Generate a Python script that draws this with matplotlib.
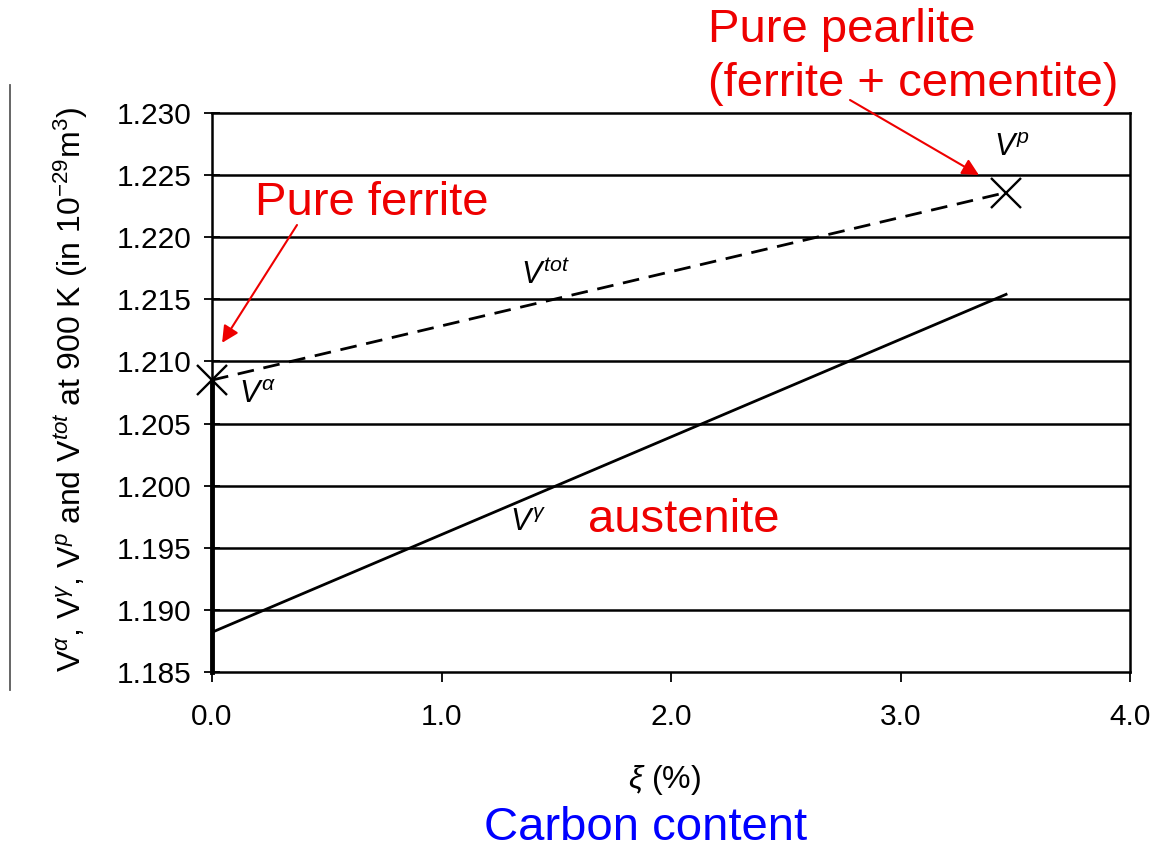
import matplotlib
matplotlib.use("Agg")
import matplotlib.pyplot as plt
from matplotlib.lines import Line2D

# data
carbon = [0.0, 3.46]            # xi (%)
v_tot = [1.2085, 1.2236]        # dashed, pure ferrite -> pure pearlite
v_gamma = [1.1882, 1.2154]      # austenite
v_alpha_x = [0.0, 0.0]
v_alpha = [1.185, 1.2085]       # thick vertical at xi = 0
x_ticks = [0.0, 1.0, 2.0, 3.0, 4.0]
y_ticks = [1.185, 1.190, 1.195, 1.200, 1.205, 1.210, 1.215, 1.220, 1.225, 1.230]

plt.rcParams['font.family'] = ['Liberation Sans', 'DejaVu Sans']
plt.rcParams['mathtext.fontset'] = 'custom'
plt.rcParams['mathtext.rm'] = 'Liberation Sans'
plt.rcParams['mathtext.it'] = 'Liberation Sans:italic'

W, H = 1157, 848
fig = plt.figure(figsize=(W / 100, H / 100), dpi=100)
ax = fig.add_axes([212 / W, 1 - 672 / H, (1130 - 212) / W, (672 - 113) / H])


def fx(px):
    return px / W


def fy(py):
    return 1 - py / H


ax.set_xlim(0, 4.0)
ax.set_ylim(1.185, 1.230)
ax.set_xticks(x_ticks)
ax.set_xticklabels(['%.1f' % v for v in x_ticks])
ax.set_yticks(y_ticks)
ax.set_yticklabels(['%.3f' % v for v in y_ticks])
for y in y_ticks[1:-1]:
    ax.axhline(y, color='black', lw=1.8, zorder=1)
for s in ax.spines.values():
    s.set_linewidth(1.8)
ax.tick_params(axis='y', direction='inout', length=12, width=1.3, labelsize=21.5, pad=9)
ax.tick_params(axis='x', direction='out', length=7, width=1.3, labelsize=21.5, pad=15)

ax.plot(v_alpha_x, v_alpha, color='black', lw=3.5, zorder=3, clip_on=False)
ax.plot(carbon, v_gamma, color='black', lw=2.0, zorder=3)
ax.plot(carbon, v_tot, color='black', lw=2.0, dashes=(6, 3.5), zorder=3)
ax.plot(carbon, v_tot, ls='none', marker='x', ms=22, mew=1.7, color='black', zorder=4,
        clip_on=False)

ax.set_ylabel(r'$\mathrm{V}^{\alpha}$, $\mathrm{V}^{\gamma}$, $\mathrm{V}^{p}$ and '
              r'$\mathrm{V}^{tot}$ at 900 K (in 10$^{-29}$m$^{3}$)', fontsize=23)
ax.yaxis.set_label_coords(-0.133, 0.505)

fig.text(fx(665), fy(780), r'$\xi$ (%)', fontsize=23, ha='center', va='center')
fig.text(fx(646), fy(828), 'Carbon content', fontsize=34, color='blue',
         ha='center', va='center')

# curve labels
fig.text(fx(545), fy(276), r'$V^{tot}$', fontsize=22, ha='center', va='center')
fig.text(fx(258), fy(395), r'$V^{\alpha}$', fontsize=22, ha='center', va='center')
fig.text(fx(1012), fy(148), r'$V^{p}$', fontsize=22, ha='center', va='center')
fig.text(fx(528), fy(523), r'$V^{\gamma}$', fontsize=22, ha='center', va='center')

# red notes
red = '#ee0000'
fig.text(fx(708), fy(30), 'Pure pearlite', fontsize=34, color=red, ha='left', va='center')
fig.text(fx(708), fy(84), '(ferrite + cementite)', fontsize=34, color=red,
         ha='left', va='center')
fig.text(fx(372), fy(203), 'Pure ferrite', fontsize=34, color=red, ha='center', va='center')
fig.text(fx(684), fy(520), 'austenite', fontsize=34, color=red, ha='center', va='center')

arrow = dict(arrowstyle='-|>', color=red, lw=1.5, mutation_scale=25, shrinkA=0, shrinkB=0)
ax.annotate('', xy=(0.044, 1.2115), xytext=(fx(297), fy(225)),
            textcoords='figure fraction', arrowprops=arrow)
ax.annotate('', xy=(3.342, 1.2250), xytext=(fx(850), fy(100)),
            textcoords='figure fraction', arrowprops=arrow)

# left bracket line from the source scan
fig.add_artist(Line2D([fx(10), fx(10)], [fy(85), fy(690)], color='0.35', lw=1.3))

fig.savefig('out.png', dpi=100)
